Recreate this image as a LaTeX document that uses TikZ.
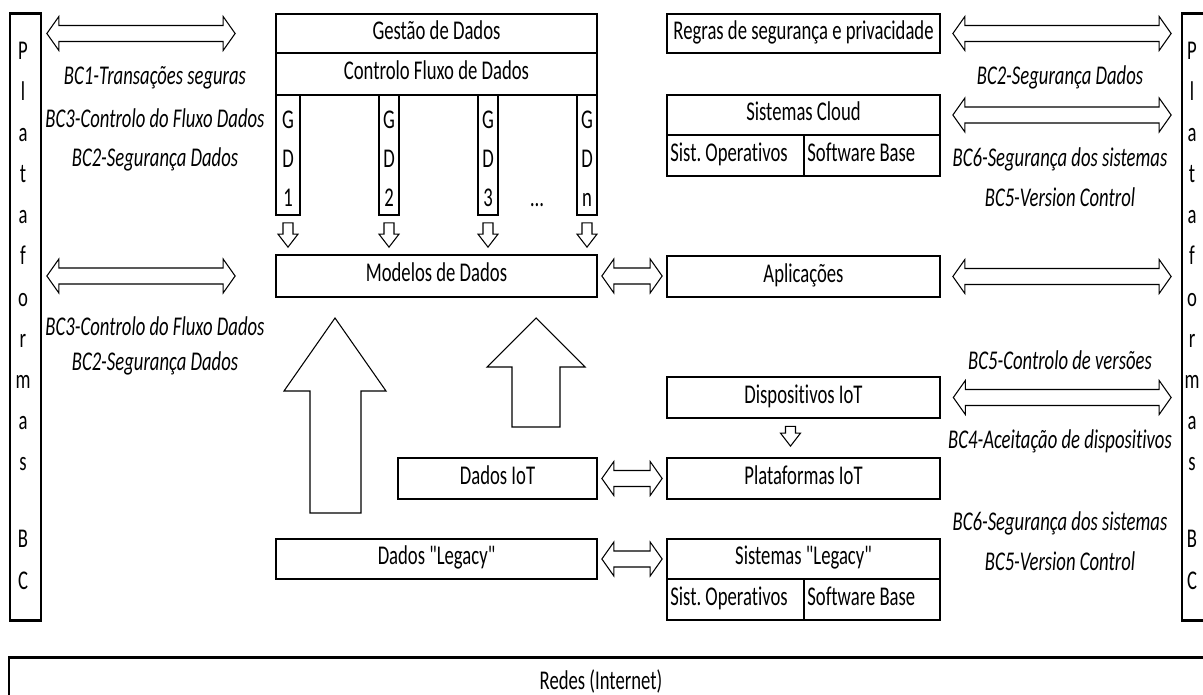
\documentclass[tikz,border=0pt]{standalone}
\usepackage{fontspec}
\newfontfamily\drawfont[FakeStretch=0.69, Ligatures=CommonOff]{Carlito}
\usetikzlibrary{calc}
\frenchspacing
\begin{document}
\begin{tikzpicture}[x=0.75pt, y=-0.75pt,
  every node/.style={font=\drawfont\fontsize{20.3}{24}\selectfont},
  wh/.style 2 args={minimum width=#1*0.75pt, minimum height=#2*0.75pt},
  box/.style={draw, line width=1.3pt, inner sep=0pt, fill=white,
              text height=0.9em, text depth=0.02em},
  leftbox/.style={box, text width=#1*0.75pt-5pt, align=flush left},
  lab/.style={anchor=base, font=\drawfont\fontsize{20.3}{24}\selectfont\itshape},
  letter/.style={anchor=base},
  dbl/.style={draw, fill=white, line width=0.8pt, line join=miter,
    to path={let \p1=(\tikztostart), \p2=(\tikztotarget) in
      (\x1,\y1) -- (\x1+9pt,\y1+12.75pt) -- (\x1+9pt,\y1+6pt)
      -- (\x2-9pt,\y1+6pt) -- (\x2-9pt,\y1+12.75pt) -- (\x2,\y1)
      -- (\x2-9pt,\y1-12.75pt) -- (\x2-9pt,\y1-6pt)
      -- (\x1+9pt,\y1-6pt) -- (\x1+9pt,\y1-12.75pt) -- cycle}},
  down/.style={draw, fill=white, line width=0.8pt, line join=miter,
    to path={let \p1=(\tikztostart), \p2=(\tikztotarget) in
      (\x1-3.75pt,\y1) -- (\x1+3.75pt,\y1) -- (\x1+3.75pt,\y2+9.75pt)
      -- (\x1+7.5pt,\y2+9.75pt) -- (\x1,\y2) -- (\x1-7.5pt,\y2+9.75pt)
      -- (\x1-3.75pt,\y2+9.75pt) -- cycle}},
  bigup/.style={draw, fill=white, line width=0.8pt, line join=miter}
]
\clip (0,0) rectangle (1203,695);
\fill[white] (0,0) rectangle (1203,695);

% platform columns on both sides
\node[box, wh={31}{606}] (platL) at (25.5,317) {};
\node[box, wh={40}{606}] (platR) at (1202,317) {};
\foreach \p in {platL, platR} {
  \draw[line width=2.2pt] (\p.north west) -- (\p.north east);
  \draw[line width=2.2pt] (\p.south west) -- (\p.south east);
}
\foreach \ch [count=\k from 0] in {P,l,a,t,a,f,o,r,m,a,s} {
  \node[letter] (pl\k) at (23,60+41*\k) {\ch};
  \node[letter] (pr\k) at (1192,60+41*\k) {\ch};
}
\node[letter] (plB) at (23,547) {B};
\node[letter] (plC) at (23,589) {C};
\node[letter] (prB) at (1192,547) {B};
\node[letter] (prC) at (1192,589) {C};

% network layer
\node[box, wh={1215}{60}] (redes) at (616.5,688) {};
\draw[line width=2.2pt] (redes.north west) -- (redes.north east);
\node[anchor=base] (redesT) at (601,689) {Redes (Internet)};

% data management stack
\node[box, wh={321}{39}] (gestao) at (436.5,33.5) {Gestão de Dados};
\node[box, wh={321}{42}] (controlo) at (436.5,74) {Controlo Fluxo de Dados};
\node[box, wh={24}{120}] (gd1) at (288,155) {};
\node[box, wh={20}{120}] (gd2) at (389,155) {};
\node[box, wh={20}{120}] (gd3) at (488,155) {};
\node[box, wh={20}{120}] (gdn) at (587,155) {};
\foreach \g/\x/\n in {gd1/288/1, gd2/389/2, gd3/488/3, gdn/587/n} {
  \node[letter] (\g G) at (\x,129) {G};
  \node[letter] (\g D) at (\x,168) {D};
  \node[letter] (\g N) at (\x,207) {\n};
}
\node[letter] (dots) at (537,207) {…};
\node[box, wh={321}{42}] (modelos) at (436.5,276) {Modelos de Dados};
\foreach \g in {gd1, gd2, gd3, gdn}
  \draw[down] ($(\g.south)+(0,7)$) to ($(\g.south |- modelos.north)+(0,-7)$);

\node[box, wh={199}{41}] (dadosIoT) at (497.5,478.5) {Dados IoT};
\node[box, wh={321}{40}] (legacyD) at (436.5,559) {Dados "Legacy"};

% large upward arrows feeding the data models
\draw[bigup] (335,318) -- (386,391) -- (361,391) -- (361,513) -- (310,513)
  -- (310,391) -- (284,391) -- cycle;
\draw[bigup] (536,318) -- (585,367) -- (560,367) -- (560,427) -- (512,427)
  -- (512,367) -- (487,367) -- cycle;

% systems column
\node[box, wh={273}{39}] (regras) at (803.5,33.5) {Regras de segurança e privacidade};
\node[box, wh={273}{40}] (cloud) at (803.5,115) {Sistemas Cloud};
\node[leftbox=137, wh={137}{41}] (cloudOS) at (735.5,155.5) {Sist. Operativos};
\node[leftbox=136, wh={136}{41}] (cloudSW) at (872,155.5) {Software Base};
\node[box, wh={273}{41}] (aplic) at (803.5,276.5) {Aplicações};
\node[box, line width=2pt, wh={273}{41}] (disp) at (803.5,397.5) {Dispositivos IoT};
\node[box, wh={273}{41}] (platIoT) at (803.5,478.5) {Plataformas IoT};
\node[box, wh={273}{40}] (sysLeg) at (803.5,559) {Sistemas "Legacy"};
\node[leftbox=137, wh={137}{41}] (legOS) at (735.5,599.5) {Sist. Operativos};
\node[leftbox=136, wh={136}{41}] (legSW) at (872,599.5) {Software Base};
\draw[down] ($(disp.south)+(-13,7)$) to ($(disp.south |- platIoT.north)+(-13,-11)$);

% links between layers
\draw[dbl] ($(modelos.east)+(4,0)$) to ($(aplic.west)+(-4,0)$);
\draw[dbl] ($(dadosIoT.east)+(4,0)$) to ($(platIoT.west)+(-4,0)$);
\draw[dbl] ($(legacyD.east)+(4,0)$) to ($(sysLeg.west)+(-4,0)$);

% links to the left platform
\draw[dbl] ($(platL.east |- gestao.center)+(5,0)$) to ($(gestao.west)+(-40,0)$);
\draw[dbl] ($(platL.east |- modelos.center)+(5,0)$) to ($(modelos.west)+(-40,0)$);
\node[lab] (l1) at (155,85) {BC1-Transações seguras};
\node[lab] (l2) at (155,128) {BC3-Controlo do Fluxo Dados};
\node[lab] (l3) at (155,167) {BC2-Segurança Dados};
\node[lab] (l4) at (155,335) {BC3-Controlo do Fluxo Dados};
\node[lab] (l5) at (155,370) {BC2-Segurança Dados};

% links to the right platform
\draw[dbl] ($(regras.east)+(12,0)$) to ($(platR.west |- regras.center)+(-10,0)$);
\draw[dbl] ($(cloud.east)+(12,0)$) to ($(platR.west |- cloud.center)+(-10,0)$);
\draw[dbl] ($(aplic.east)+(12,0)$) to ($(platR.west |- aplic.center)+(-10,0)$);
\draw[dbl] ($(disp.east)+(12,0)$) to ($(platR.west |- disp.center)+(-10,0)$);
\node[lab] (r1) at (1060,85) {BC2-Segurança Dados};
\node[lab] (r2) at (1060,167) {BC6-Segurança dos sistemas};
\node[lab] (r3) at (1060,207) {BC5-Version Control};
\node[lab] (r4) at (1060,369) {BC5-Controlo de versões};
\node[lab] (r5) at (1060,448) {BC4-Aceitação de dispositivos};
\node[lab] (r6) at (1060,530) {BC6-Segurança dos sistemas};
\node[lab] (r7) at (1060,570) {BC5-Version Control};
\end{tikzpicture}
\end{document}
